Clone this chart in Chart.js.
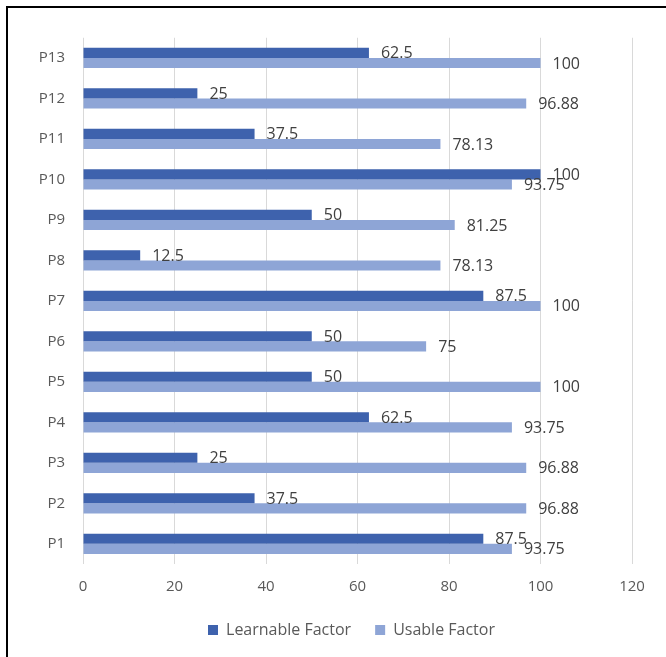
<!DOCTYPE html>
<html>
<head>
<meta charset="utf-8">
<script src="https://cdn.jsdelivr.net/npm/chart.js@4"></script>
<style>
  html, body { margin: 0; padding: 0; background: #fff; overflow: hidden; }
  #frame {
    position: absolute; left: 6px; top: 6px;
    width: 700px; height: 700px;
    border-left: 2px solid #000; border-top: 2px solid #000;
  }
  #chart { position: absolute; left: 0; top: 0; }
</style>
</head>
<body>
<div id="frame"><canvas id="chart" width="687" height="670"></canvas></div>
<script>
const categories = ['P1', 'P2', 'P3', 'P4', 'P5', 'P6', 'P7', 'P8', 'P9', 'P10', 'P11', 'P12', 'P13'];
const learnable = [87.5, 37.5, 25, 62.5, 50, 50, 87.5, 12.5, 50, 100, 37.5, 25, 62.5];
const usable = [93.75, 96.88, 96.88, 93.75, 100, 75, 100, 78.13, 81.25, 93.75, 78.13, 96.88, 100];
const xTicks = [0, 20, 40, 60, 80, 100, 120];

const FONT = '"Open Sans", sans-serif';

// etiquettes de valeur au bout des barres
const valueLabels = {
    id: 'valueLabels',
    afterDatasetsDraw(chart) {
        const ctx = chart.ctx;
        ctx.save();
        ctx.font = '16px ' + FONT;
        ctx.fillStyle = '#404040';
        ctx.textAlign = 'left';
        ctx.textBaseline = 'middle';
        chart.data.datasets.forEach((ds, i) => {
            chart.getDatasetMeta(i).data.forEach((bar, j) => {
                ctx.fillText(String(ds.data[j]), bar.x + 12, bar.y + 1);
            });
        });
        ctx.restore();
    }
};

new Chart(document.getElementById('chart'), {
    type: 'bar',
    data: {
        labels: categories,
        datasets: [{
            label: 'Learnable Factor',
            data: learnable,
            backgroundColor: '#3e62ad',
            borderWidth: 0,
            categoryPercentage: 0.5,
            barPercentage: 1
        }, {
            label: 'Usable Factor',
            data: usable,
            backgroundColor: '#8ea5d6',
            borderWidth: 0,
            categoryPercentage: 0.5,
            barPercentage: 1
        }]
    },
    options: {
        indexAxis: 'y',
        responsive: false,
        animation: false,
        layout: { padding: { top: 29.75, left: 0, right: 0, bottom: 30 } },
        plugins: {
            legend: {
                position: 'bottom',
                labels: {
                    boxWidth: 10,
                    boxHeight: 10,
                    padding: 24,
                    color: '#595959',
                    font: { family: FONT, size: 16 }
                }
            },
            tooltip: { enabled: false }
        },
        scales: {
            x: {
                min: 0,
                max: 120,
                afterBuildTicks(scale) {
                    scale.ticks = xTicks.map(v => ({ value: v }));
                },
                grid: { color: '#d9d9d9', lineWidth: 1, drawTicks: false },
                border: { display: false },
                ticks: { color: '#595959', padding: 14, font: { family: FONT, size: 15 } },
                afterFit(scale) { scale.height = 34; }
            },
            y: {
                reverse: true,
                grid: { display: false, drawTicks: false },
                border: { display: false },
                ticks: { color: '#595959', padding: 18, font: { family: FONT, size: 15 } },
                afterFit(scale) { scale.width = 75; }
            },
            y2: {
                axis: 'y',
                position: 'right',
                grid: { display: false, drawTicks: false },
                border: { display: false },
                ticks: { display: false },
                afterFit(scale) { scale.width = 63; }
            }
        }
    },
    plugins: [valueLabels]
});
</script>
</body>
</html>
